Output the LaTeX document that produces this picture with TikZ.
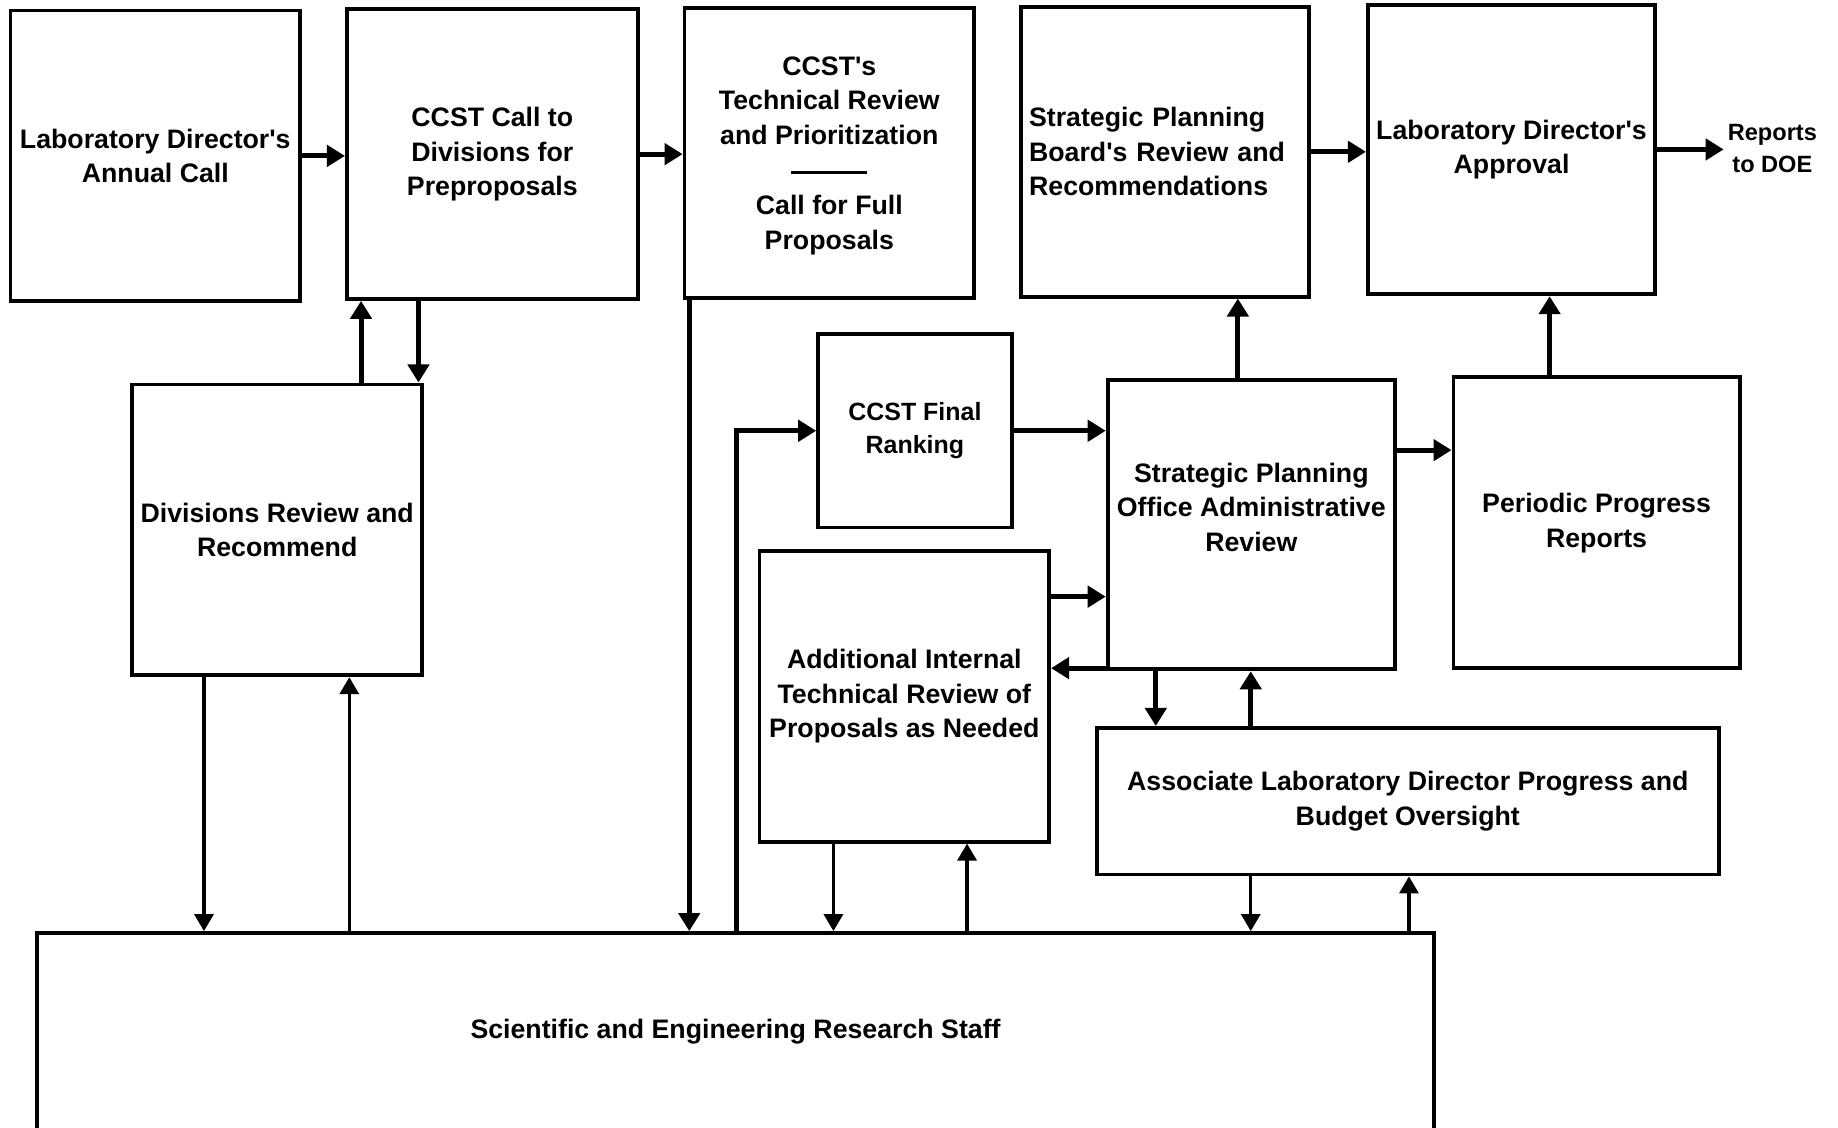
\documentclass[tikz,border=0pt]{standalone}
\usepackage{fontspec}
\setmainfont{Liberation Sans}
\usetikzlibrary{arrows.meta}
\newcommand{\apos}{\textquotesingle}

\begin{document}
\begin{tikzpicture}[x=0.011722cm, y=-0.011722cm,
  font=\fontsize{7.6}{9.84}\selectfont\bfseries,
  box/.style={draw, line width=1.1pt, align=center, inner sep=0pt, anchor=center},
  arr/.style={line width=1.4pt, -{Triangle[length=0.18cm,width=0.21cm]}},
  thinarr/.style={line width=0.95pt, -{Triangle[length=0.17cm,width=0.19cm]}}]

\useasboundingbox (0,0) rectangle (1568,962);
\clip (0,0) rectangle (1568,962);

% process boxes
\node[box, minimum width=2.895cm, minimum height=2.907cm] (b1) at (132.5,133)
  {Laboratory Director\apos s\\Annual Call};
\node[box, minimum width=2.907cm, minimum height=2.895cm] (b2) at (420,131.5)
  {CCST Call to\\Divisions for\\Preproposals};
\node[box, minimum width=2.895cm, minimum height=2.895cm] (b3) at (707.5,130.5)
  {\rule{0pt}{6.9pt}CCST\apos s\\Technical Review\\and Prioritization\\\rule[1.4pt]{0.76cm}{0.8pt}\\[0.35pt]Call for Full\\Proposals};
\node[box, minimum width=2.884cm, minimum height=2.895cm, align=left, text width=2.72cm] (b4) at (994,129.5)
  {Strategic Planning\\Board\apos s Review and\\Recommendations};
\node[box, minimum width=2.872cm, minimum height=2.895cm] (b5) at (1289.5,127.5)
  {Laboratory Director\apos s\\Approval};
\node[align=center, inner sep=1pt, font=\fontsize{6.7}{9}\selectfont\bfseries] (doe) at (1512,126.5)
  {Reports\\to DOE};
\node[box, minimum width=2.895cm, minimum height=2.907cm] (b7) at (236.5,452)
  {Divisions Review and\\Recommend};
\node[box, minimum width=1.934cm, minimum height=1.934cm, font=\fontsize{7.1}{9.3}\selectfont\bfseries] (b8) at (780.5,367.5)
  {CCST Final\\Ranking};
\node[box, minimum width=2.872cm, minimum height=2.895cm] (b9) at (1067.5,447.5)
  {Strategic Planning\\Office Administrative\\Review\\\mbox{}};
\node[box, minimum width=2.860cm, minimum height=2.907cm] (b10) at (1362,446)
  {Periodic Progress\\Reports};
\node[box, minimum width=2.895cm, minimum height=2.907cm] (b11) at (771.5,594)
  {Additional Internal\\Technical Review of\\Proposals as Needed};
\node[box, minimum width=6.213cm, minimum height=1.465cm] (b12) at (1201,683.5)
  {Associate Laboratory Director Progress and\\Budget Oversight};
\node[box, minimum width=13.961cm, minimum height=1.969cm] (st) at (627.5,880)
  {Scientific and Engineering Research Staff};

% guide positions for the vertical and horizontal connectors
\coordinate (v174) at (174,0);
\coordinate (v298) at (298,0);
\coordinate (v308) at (308,0);
\coordinate (v357) at (357,0);
\coordinate (v588) at (588,0);
\coordinate (v628) at (628,0);
\coordinate (v711) at (711,0);
\coordinate (v825) at (825,0);
\coordinate (v986) at (986,0);
\coordinate (v1056) at (1056,0);
\coordinate (v1067) at (1067,0);
\coordinate (v1202) at (1202,0);
\coordinate (v1322) at (1322,0);
\coordinate (h384) at (0,384);
\coordinate (h509) at (0,509);
\coordinate (h570) at (0,570);

% top row flow
\draw[arr] (b1.east) -- (b1.east -| b2.west);
\draw[arr] (b2.east) -- (b2.east -| b3.west);
\draw[arr] (b4.east) -- (b4.east -| b5.west);
\draw[arr] (b5.east) -- (b5.east -| doe.west);

% divisions loop
\draw[arr] (b7.north -| v308) -- (b2.south -| v308);
\draw[arr] (b2.south -| v357) -- (b7.north -| v357);
\draw[thinarr] (b7.south -| v174) -- (st.north -| v174);
\draw[thinarr] (st.north -| v298) -- (b7.south -| v298);

% full proposals and ranking
\draw[arr] (b3.south -| v588) -- (st.north -| v588);
\draw[arr] (st.north -| v628) |- (b8.west);
\draw[arr] (b8.east) -- (b8.east -| b9.west);
\draw[arr] (b11.east |- h509) -- (b9.west |- h509);
\draw[arr] (b9.west |- h570) -- (b11.east |- h570);
\draw[thinarr] (b11.south -| v711) -- (st.north -| v711);
\draw[thinarr] (st.north -| v825) -- (b11.south -| v825);

% administrative review and oversight
\draw[arr] (b9.north -| v1056) -- (b4.south -| v1056);
\draw[arr] (b9.east |- h384) -- (b10.west |- h384);
\draw[arr] (b10.north -| v1322) -- (b5.south -| v1322);
\draw[arr] (b9.south -| v986) -- (b12.north -| v986);
\draw[arr] (b12.north -| v1067) -- (b9.south -| v1067);
\draw[thinarr] (b12.south -| v1067) -- (st.north -| v1067);
\draw[thinarr] (st.north -| v1202) -- (b12.south -| v1202);
\end{tikzpicture}
\end{document}
